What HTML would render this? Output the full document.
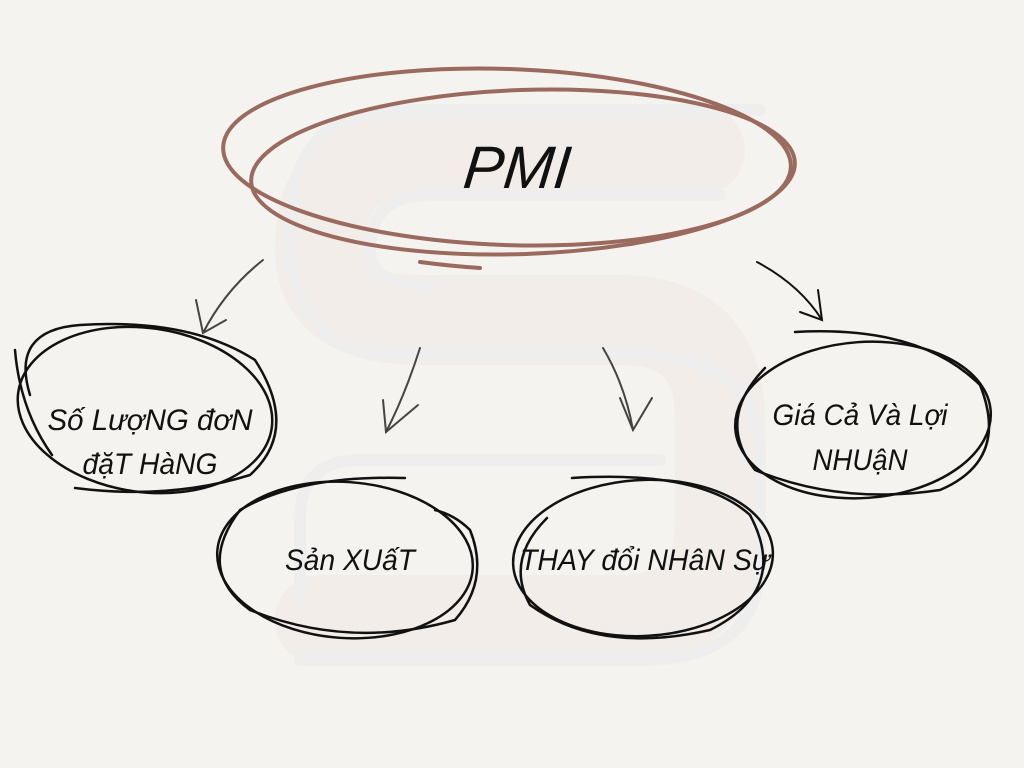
<!DOCTYPE html>
<html><head><meta charset="utf-8"><style>
html,body{margin:0;padding:0;background:#f4f3ef;}
svg{display:block}
text{font-family:"Liberation Sans",sans-serif;font-style:italic;fill:#111;}
</style></head><body>
<svg width="1024" height="768" viewBox="0 0 1024 768" xmlns="http://www.w3.org/2000/svg">
<rect width="1024" height="768" fill="#f4f3ef"/>
<g fill="none" stroke-linecap="round" opacity="0.35">
<path d="M700 150 L420 150 Q320 150 320 250 Q320 320 420 320 L620 320 Q720 320 720 420 L720 520 Q720 620 620 620 L320 620" stroke="#f1e2de" stroke-width="90"/>
<path d="M760 110 L400 110 Q290 110 290 230 Q290 355 400 355 L630 355 Q760 355 760 450 L760 560 Q760 660 640 660 L300 660" stroke="#e8e7ee" stroke-width="12"/>
<path d="M720 195 L430 195 Q370 195 370 250 Q370 285 430 285" stroke="#e8e7ee" stroke-width="12"/>
<path d="M660 460 L360 460 Q300 460 300 520 L300 600" stroke="#e8e7ee" stroke-width="12"/>
</g>
<g fill="none" stroke="#9a6a5e" stroke-width="4" stroke-linecap="round">
<ellipse cx="507" cy="157" rx="284" ry="88" transform="rotate(2 507 157)"/>
<ellipse cx="523" cy="172" rx="272" ry="82" transform="rotate(-2 523 172)"/>
<path d="M420 262 Q450 266 480 268"/>
</g>
<text x="517" y="188" font-size="60" text-anchor="middle" transform="skewX(-6) translate(18 0)">PMI</text>
<g fill="none" stroke="#444" stroke-width="2" stroke-linecap="round">
<path d="M263 260 Q225 290 203 333"/><path d="M196 300 L203 333 L226 320"/>
<path d="M420 348 Q405 395 386 432"/><path d="M383 400 L386 432 L418 405"/>
<path d="M603 348 Q625 385 633 430"/><path d="M620 398 L633 430 L652 398"/>
<path d="M757 262 Q800 285 822 320" stroke="#111"/><path d="M800 312 L822 320 L818 290" stroke="#111"/>
</g>
<g fill="none" stroke="#111" stroke-width="2.5" stroke-linecap="round">
<ellipse cx="145" cy="410" rx="128" ry="82" transform="rotate(8 145 410)"/>
<path d="M30 395 Q10 330 80 325 Q190 318 255 360 Q300 430 250 475 Q170 500 75 488"/>
<path d="M15 350 Q20 410 52 455"/>
<ellipse cx="345" cy="560" rx="128" ry="78" transform="rotate(4 345 560)"/>
<path d="M405 478 Q300 475 240 510 Q195 570 250 610 Q350 650 455 620 Q490 580 470 530 Q455 515 435 510"/>
<ellipse cx="643" cy="558" rx="130" ry="78" transform="rotate(-3 643 558)"/>
<path d="M572 478 Q700 470 750 515 Q790 590 710 630 Q600 655 530 605 Q505 560 547 518"/>
<ellipse cx="863" cy="420" rx="128" ry="78" transform="rotate(-4 863 420)"/>
<path d="M795 332 Q920 325 980 385 Q1010 460 940 490 Q840 505 755 470 Q715 420 765 368"/>
</g>
<g font-size="30">
<text x="150" y="430" text-anchor="middle" textLength="205" lengthAdjust="spacingAndGlyphs">Số LượNG đơN</text>
<text x="150" y="474" text-anchor="middle" textLength="135" lengthAdjust="spacingAndGlyphs">đặT HàNG</text>
<text x="350" y="570" text-anchor="middle" textLength="130" lengthAdjust="spacingAndGlyphs">Sản XUấT</text>
<text x="645" y="570" text-anchor="middle" textLength="250" lengthAdjust="spacingAndGlyphs">THAY đổi NHâN Sự</text>
<text x="860" y="425" text-anchor="middle" textLength="175" lengthAdjust="spacingAndGlyphs">Giá Cả Và Lợi</text>
<text x="860" y="470" text-anchor="middle" textLength="95" lengthAdjust="spacingAndGlyphs">NHUậN</text>
</g>
</svg>
</body></html>
